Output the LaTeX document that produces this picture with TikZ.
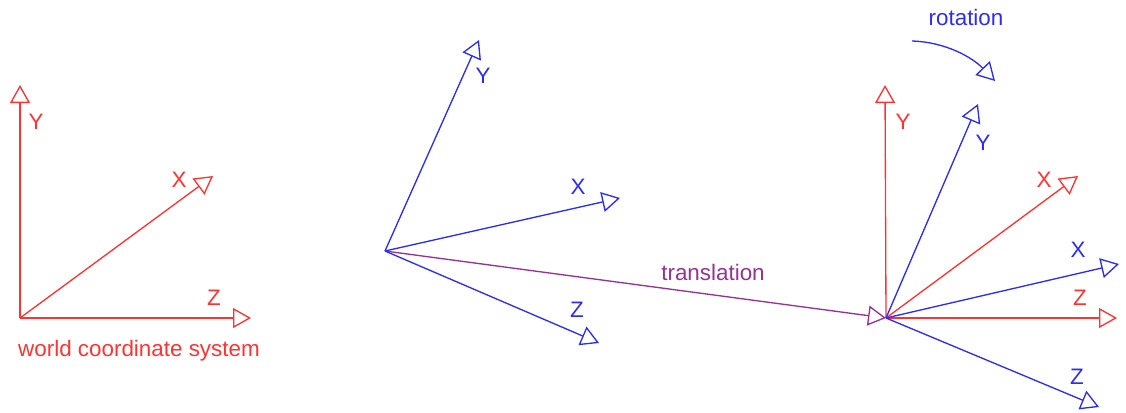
\documentclass[tikz,border=0pt]{standalone}
\usepackage{fontspec}
\setmainfont{Liberation Sans}
\usetikzlibrary{arrows.meta}
\definecolor{axred}{RGB}{255,50,50}
\definecolor{axblue}{RGB}{45,45,240}
\definecolor{axpurple}{RGB}{150,50,150}
\begin{document}
\begin{tikzpicture}[x=0.75pt,y=-0.75pt,
  axis/.style={line width=1pt,-{Triangle[open,length=13.5pt,width=15pt]}},
  lbl/.style={inner sep=0pt,font=\fontsize{16.8}{20}\selectfont}]
\useasboundingbox (0,0) rectangle (1126,412);
% left world system
\coordinate (wo) at (20,318);
\coordinate (wy) at (20,85);
\coordinate (wx) at (213,176);
\coordinate (wz) at (251,318);
\draw[axis,axred] (wo) -- (wy);
\draw[axis,axred] (wo) -- (wx);
\draw[axis,axred] (wo) -- (wz);
\node[lbl,text=axred] (wyl) at (36,122) {Y};
\node[lbl,text=axred] (wxl) at (179,180) {X};
\node[lbl,text=axred] (wzl) at (214,298) {Z};
\node[lbl,text=axred] (wt) at (139,351) {world coordinate system};
% middle system
\coordinate (mo) at (385,251);
\coordinate (my) at (479,40);
\coordinate (mx) at (620,198);
\coordinate (mz) at (599,343);
% right origin
\coordinate (ro) at (886,318);
\draw[axis,axpurple] (mo) -- (ro);
\node[lbl,text=axpurple] (tl) at (713,272) {translation};
\draw[axis,axblue] (mo) -- (my);
\draw[axis,axblue] (mo) -- (mx);
\draw[axis,axblue] (mo) -- (mz);
\node[lbl,text=axblue] (myl) at (483,76) {Y};
\node[lbl,text=axblue] (mxl) at (578,187) {X};
\node[lbl,text=axblue] (mzl) at (577,310) {Z};
% right system
\coordinate (ry) at (885,85);
\coordinate (rx) at (1078,176);
\coordinate (rz) at (1117,318);
\coordinate (by) at (978,104);
\coordinate (bx) at (1119,264);
\coordinate (bz) at (1099,407);
\draw[axis,axred] (ro) -- (ry);
\draw[axis,axred] (ro) -- (rx);
\draw[axis,axred] (ro) -- (rz);
\draw[axis,axblue] (ro) -- (by);
\draw[axis,axblue] (ro) -- (bx);
\draw[axis,axblue] (ro) -- (bz);
\node[lbl,text=axred] (ryl) at (903,122) {Y};
\node[lbl,text=axred] (rxl) at (1044,180) {X};
\node[lbl,text=axred] (rzl) at (1080,298) {Z};
\node[lbl,text=axblue] (byl) at (983,143) {Y};
\node[lbl,text=axblue] (bxl) at (1078,250) {X};
\node[lbl,text=axblue] (bzl) at (1077,377) {Z};
% rotation
\coordinate (rs) at (912,41);
\coordinate (re) at (995,81);
\draw[axis,axblue] (rs) .. controls (945,42) and (972,57) .. (re);
\node[lbl,text=axblue] (rl) at (966,17) {rotation};
\end{tikzpicture}
\end{document}
